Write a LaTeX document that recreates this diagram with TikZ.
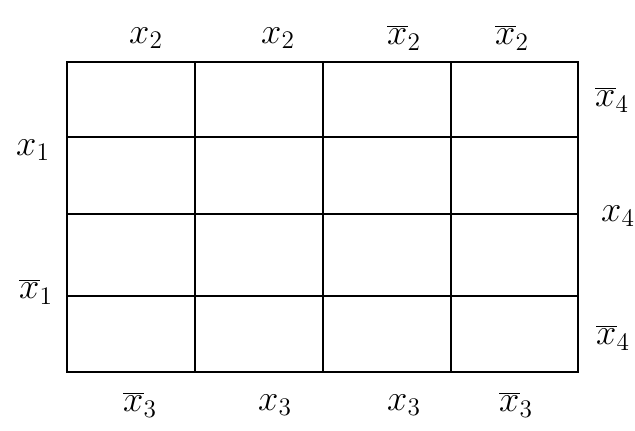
\documentclass[tikz,border=0pt]{standalone}
\begin{document}
\begin{tikzpicture}[x=0.02cm,y=-0.02cm,line width=1.3pt,every node/.style={font=\fontsize{20}{24}\selectfont}]
\useasboundingbox (0,0) rectangle (635,430);
% grid
\draw (67,62) rectangle (578,372);
\draw (195,62) -- (195,372);
\draw (323,62) -- (323,372);
\draw (451,62) -- (451,372);
\draw (67,137) -- (578,137);
\draw (67,214) -- (578,214);
\draw (67,296) -- (578,296);
% top labels
\node (t1) at (146,38) {$x_2$};
\node (t2) at (278,38) {$x_2$};
\node (t3) at (404,38) {$\overline{x}_2$};
\node (t4) at (512,38) {$\overline{x}_2$};
% left labels
\node (l1) at (33,150) {$x_1$};
\node (l2) at (36,292) {$\overline{x}_1$};
% right labels
\node (r1) at (612,100) {$\overline{x}_4$};
\node (r2) at (618,216) {$x_4$};
\node (r3) at (613,338) {$\overline{x}_4$};
% bottom labels
\node (b1) at (140,405) {$\overline{x}_3$};
\node (b2) at (275,405) {$x_3$};
\node (b3) at (404,405) {$x_3$};
\node (b4) at (516,405) {$\overline{x}_3$};
\end{tikzpicture}
\end{document}
